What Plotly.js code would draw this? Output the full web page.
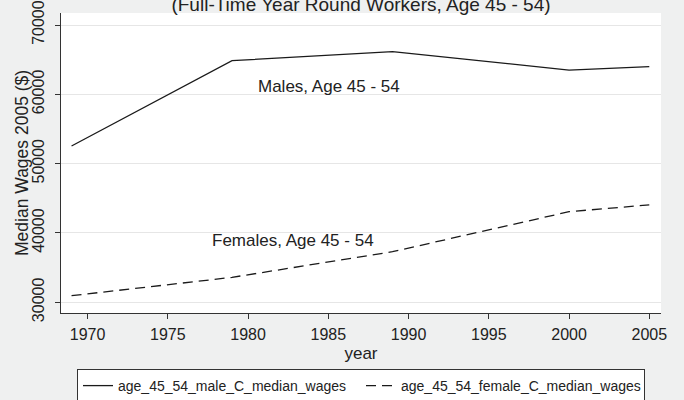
<!DOCTYPE html>
<html>
<head>
<meta charset="utf-8">
<script src="https://cdn.plot.ly/plotly-3.0.1.min.js"></script>
<style>
  html, body { margin: 0; padding: 0; background: #eff0f0; }
  #chart { width: 684px; height: 400px; }
</style>
</head>
<body>
<div id="chart"></div>
<script>
// Data
const years = [1969, 1979, 1989, 2000, 2005];
const maleWages = [52550, 64850, 66150, 63500, 64000];
const femaleWages = [30950, 33600, 37300, 43070, 44050];
const maleName = 'age_45_54_male_C_median_wages';
const femaleName = 'age_45_54_female_C_median_wages';
const xTicks = [1970, 1975, 1980, 1985, 1990, 1995, 2000, 2005];
const yTicks = [30000, 40000, 50000, 60000, 70000];
const titleText = '(Full-Time Year Round Workers, Age 45 - 54)';
const yTitle = 'Median Wages 2005 ($)';
const xTitle = 'year';
const maleLabel = 'Males, Age 45 - 54';
const femaleLabel = 'Females, Age 45 - 54';
const maleLabelPos = [1985.05, 61200];
const femaleLabelPos = [1982.83, 38920];

const FONT = 'Liberation Sans, Arial, sans-serif';
const TXT = '#222';

const traces = [
  {
    x: years, y: maleWages, name: maleName, type: 'scatter', mode: 'lines',
    line: {color: '#1a1a1a', width: 1.3}
  },
  {
    x: years, y: femaleWages, name: femaleName, type: 'scatter', mode: 'lines',
    line: {color: '#1a1a1a', width: 1.3, dash: '10px,6px'}
  }
];

const layout = {
  width: 684, height: 400,
  paper_bgcolor: '#eff0f0',
  plot_bgcolor: '#ffffff',
  margin: {l: 61, r: 23, t: 13, b: 87, pad: 0, autoexpand: false},
  font: {family: FONT, color: TXT, size: 16},
  title: {
    text: titleText,
    font: {family: FONT, size: 19, color: TXT},
    x: 0.5, xref: 'paper', xanchor: 'center',
    y: 1 - 10.5 / 400, yref: 'container', yanchor: 'bottom'
  },
  xaxis: {
    range: [1968.343, 2005.73],
    tickmode: 'array', tickvals: xTicks, ticktext: xTicks.map(String),
    ticks: 'outside', ticklen: 5, tickwidth: 1, tickcolor: '#333',
    ticklabelstandoff: 2,
    showline: true, linecolor: '#333', linewidth: 1,
    showgrid: false, zeroline: false,
    tickfont: {family: FONT, size: 16, color: TXT},
    title: {text: xTitle, font: {family: FONT, size: 17, color: TXT}, standoff: 4},
    automargin: false
  },
  yaxis: {
    range: [28457, 71731],
    tickmode: 'array', tickvals: yTicks, ticktext: yTicks.map(String),
    ticks: 'outside', ticklen: 5, tickwidth: 1, tickcolor: '#333',
    tickangle: -90,
    ticklabelstandoff: 5,
    ticklabeloverflow: 'allow',
    showline: true, linecolor: '#333', linewidth: 1,
    showgrid: true, gridcolor: '#e6e6e6', gridwidth: 1,
    zeroline: false,
    tickfont: {family: FONT, size: 16, color: TXT},
    automargin: false
  },
  showlegend: true,
  legend: {
    orientation: 'h',
    x: 0.5, xanchor: 'center',
    y: (313 - 369) / 300, yanchor: 'top', yref: 'paper',
    bgcolor: '#ffffff', bordercolor: '#333', borderwidth: 1,
    font: {family: FONT, size: 14, color: TXT},
    entrywidth: 238, entrywidthmode: 'pixels',
    itemwidth: 30
  },
  annotations: [
    {x: (22 - 61) / 600, y: 0.5, xref: 'paper', yref: 'paper', text: yTitle,
     textangle: -90, showarrow: false, xanchor: 'center', yanchor: 'middle',
     font: {family: FONT, size: 17.5, color: TXT}},
    {x: maleLabelPos[0], y: maleLabelPos[1], xref: 'x', yref: 'y', text: maleLabel,
     showarrow: false, xanchor: 'center', yanchor: 'middle',
     font: {family: FONT, size: 17, color: TXT}},
    {x: femaleLabelPos[0], y: femaleLabelPos[1], xref: 'x', yref: 'y', text: femaleLabel,
     showarrow: false, xanchor: 'center', yanchor: 'middle',
     font: {family: FONT, size: 17, color: TXT}}
  ]
};

Plotly.newPlot('chart', traces, layout, {displayModeBar: false, responsive: false});
</script>
</body>
</html>
